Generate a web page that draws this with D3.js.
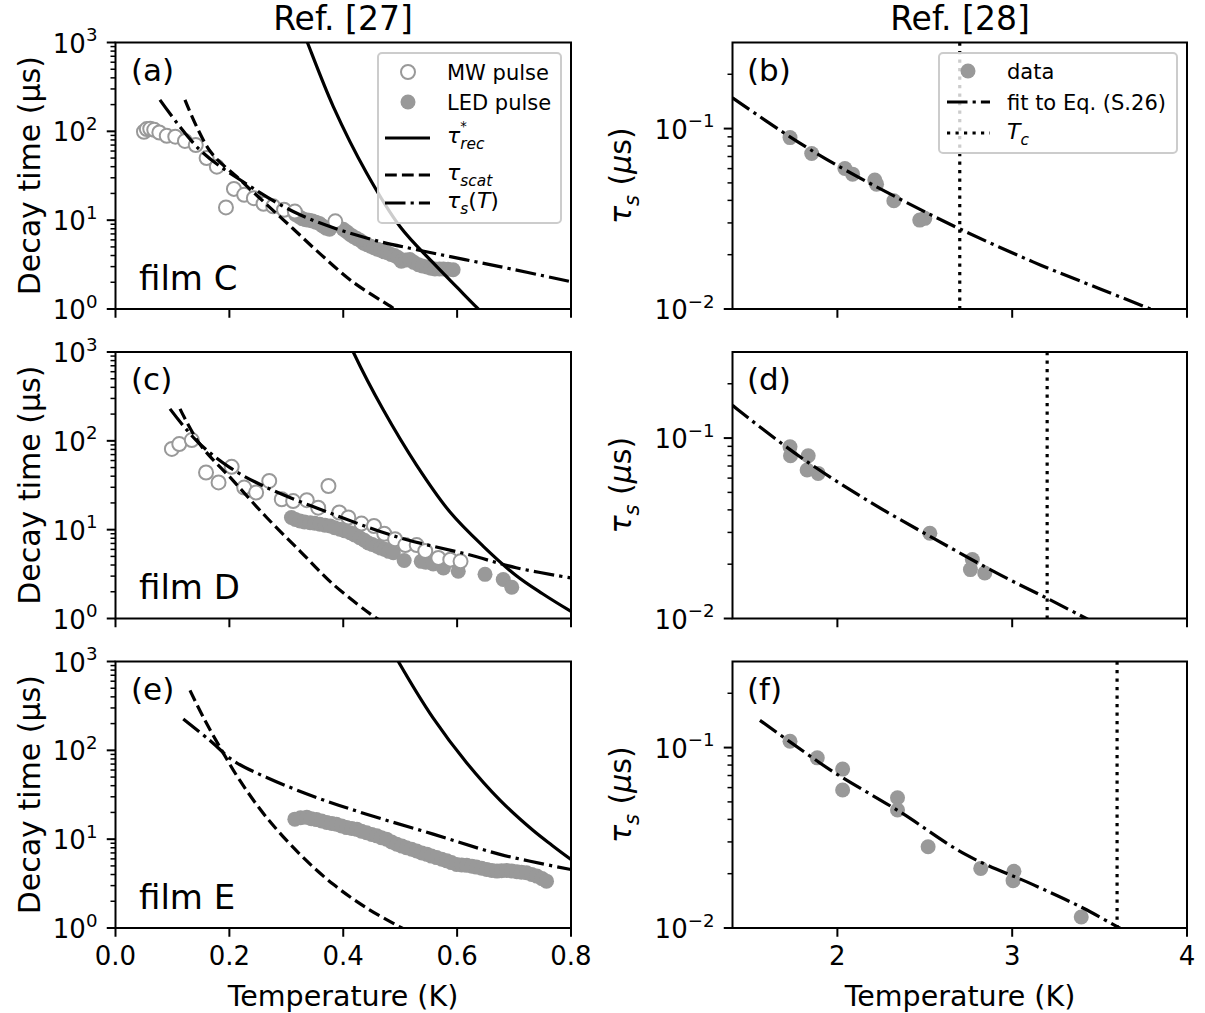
<!DOCTYPE html>
<html>
<head>
<meta charset="utf-8">
<script src="https://cdn.jsdelivr.net/npm/d3@7"></script>
<style>
  body { margin: 0; background: #fff; }
  svg { font-family: "DejaVu Sans", sans-serif; }
  text { white-space: pre; }
</style>
</head>
<body>
<svg id="chart" width="1205" height="1013"></svg>
<script>
// ---- data: [temperature (K), value] ----
// left column: decay time (us)
const mwC = [[0.050, 99], [0.055, 106], [0.061, 107], [0.068, 104], [0.077, 97], [0.090, 89], [0.105, 87],
  [0.122, 78], [0.141, 70], [0.160, 50], [0.178, 40], [0.194, 13.9], [0.208, 22.5], [0.226, 19.3],
  [0.243, 17.7], [0.260, 15.3], [0.277, 14.3], [0.296, 13.1], [0.315, 12.5], [0.386, 9.7]];
const ledC = [[0.316, 11.6], [0.322, 11.0], [0.328, 10.4], [0.334, 10.1], [0.340, 10.0], [0.346, 9.8],
  [0.352, 9.5], [0.358, 9.2], [0.364, 8.6], [0.370, 8.1], [0.376, 7.9], [0.400, 7.9], [0.406, 7.4],
  [0.412, 6.9], [0.418, 6.5], [0.424, 6.2], [0.430, 5.9], [0.436, 5.5], [0.442, 5.3], [0.448, 5.1],
  [0.454, 4.9], [0.460, 4.7], [0.466, 4.6], [0.472, 4.4], [0.478, 4.3], [0.484, 4.1], [0.490, 4.0],
  [0.496, 3.8], [0.502, 3.45], [0.510, 3.55], [0.517, 3.6], [0.524, 3.35], [0.532, 3.15], [0.539, 3.05],
  [0.547, 2.97], [0.554, 2.88], [0.561, 2.82], [0.569, 2.82], [0.576, 2.82], [0.584, 2.8], [0.593, 2.77]];
const recC = [[0.330, 1300], [0.337, 1000], [0.3825, 190], [0.441, 34], [0.4996, 8.5], [0.558, 3.3], [0.600, 1.75], [0.634, 1.05], [0.645, 0.9]];
const scatC = [[0.122, 226], [0.166, 60], [0.2187, 28.5], [0.2655, 15], [0.312, 8.0], [0.359, 4.2], [0.4176, 2.0], [0.485, 1.05], [0.495, 0.95]];
const fitC = [[0.078, 226], [0.148, 62], [0.2187, 28.5], [0.324, 11.5], [0.441, 6.3], [0.529, 4.65], [0.675, 3.0], [0.80, 2.03]];

const mwD = [[0.099, 81], [0.112, 92], [0.134, 102], [0.159, 44], [0.181, 34], [0.204, 51], [0.226, 29.8],
  [0.247, 26.2], [0.270, 35.4], [0.292, 22], [0.312, 21], [0.336, 21.5], [0.356, 17.7], [0.374, 31],
  [0.393, 15.6], [0.409, 13.7], [0.432, 11.7], [0.454, 11], [0.472, 9.0], [0.491, 7.8], [0.509, 6.7],
  [0.529, 6.7], [0.544, 5.75], [0.567, 4.8], [0.588, 4.6], [0.606, 4.4]];
const ledD = [[0.309, 13.7], [0.316, 13.0], [0.324, 12.5], [0.332, 12.2], [0.342, 12.0], [0.350, 11.8],
  [0.359, 11.5], [0.368, 11.2], [0.377, 11.0], [0.385, 10.5], [0.394, 10.1], [0.403, 9.7], [0.412, 9.25],
  [0.420, 8.7], [0.429, 8.1], [0.437, 7.6], [0.444, 7.1], [0.451, 6.8], [0.459, 6.5], [0.466, 6.2],
  [0.473, 6.0], [0.480, 5.7], [0.488, 5.5], [0.507, 4.5], [0.537, 4.4], [0.545, 4.3], [0.558, 4.1],
  [0.576, 3.7], [0.602, 4.07], [0.602, 3.4], [0.649, 3.14], [0.681, 2.75], [0.696, 2.25]];
const recD = [[0.410, 1300], [0.4176, 1000], [0.470, 225], [0.529, 53], [0.5875, 15.8], [0.646, 6.5], [0.7035, 3.05], [0.750, 1.9], [0.80, 1.2]];
const scatD = [[0.1133, 229], [0.148, 92], [0.207, 35.4], [0.2655, 13.7], [0.324, 5.75], [0.3825, 2.42], [0.456, 1.03], [0.465, 0.95]];
const fitD = [[0.0957, 229], [0.1426, 100], [0.201, 50], [0.2655, 29.8], [0.3825, 14.9], [0.4996, 8.1], [0.617, 5.3], [0.7035, 3.73], [0.80, 2.86]];

const ledE = [[0.315, 16.8], [0.325, 17.4], [0.336, 17.6], [0.344, 17.0], [0.353, 16.6], [0.362, 16.0],
  [0.371, 15.4], [0.380, 15.0], [0.388, 14.7], [0.397, 14.1], [0.406, 13.5], [0.415, 13.2], [0.424, 12.9],
  [0.432, 12.3], [0.441, 11.8], [0.450, 11.3], [0.459, 10.9], [0.467, 10.4], [0.476, 10.0], [0.485, 9.3],
  [0.494, 8.75], [0.503, 8.35], [0.511, 8.0], [0.520, 7.7], [0.529, 7.35], [0.538, 7.0], [0.547, 6.75],
  [0.555, 6.45], [0.564, 6.2], [0.573, 5.95], [0.582, 5.7], [0.590, 5.45], [0.599, 5.2], [0.608, 5.12],
  [0.617, 5.07], [0.626, 4.95], [0.634, 4.85], [0.643, 4.7], [0.652, 4.57], [0.661, 4.45], [0.670, 4.37],
  [0.678, 4.42], [0.687, 4.45], [0.696, 4.38], [0.705, 4.3], [0.713, 4.25], [0.722, 4.18], [0.731, 4.0],
  [0.740, 3.84], [0.749, 3.6], [0.757, 3.37]];
const recE = [[0.490, 1200], [0.4967, 1000], [0.558, 230], [0.617, 72], [0.6752, 27.5], [0.7337, 12.5], [0.767, 8.5], [0.80, 5.9]];
const scatE = [[0.1308, 473], [0.1542, 236], [0.1835, 108], [0.2187, 45.5], [0.2655, 17.5], [0.324, 6.75], [0.3825, 3.1], [0.441, 1.68], [0.5029, 1.0], [0.51, 0.95]];
const fitE = [[0.119, 226], [0.166, 129], [0.207, 76.5], [0.2655, 49.5], [0.3533, 29.4], [0.441, 19.1], [0.558, 11.4], [0.6752, 6.75], [0.80, 4.55]];

// right column: tau_s (us)
const dataB = [[1.729, 0.0891], [1.853, 0.0728], [2.043, 0.0601], [2.087, 0.0559], [2.214, 0.0518],
  [2.224, 0.0492], [2.323, 0.0398], [2.471, 0.0311], [2.500, 0.0318]];
const fitB = [[1.40, 0.148], [1.729, 0.090], [1.976, 0.0643], [2.357, 0.0407], [2.70, 0.0278], [3.119, 0.01825], [3.50, 0.01295], [3.786, 0.01004], [3.82, 0.0097]];
const dataD = [[1.729, 0.0896], [1.732, 0.0798], [1.833, 0.0798], [1.827, 0.0666], [1.890, 0.0637],
  [2.529, 0.0297], [2.772, 0.0212], [2.761, 0.01866], [2.843, 0.01786]];
const fitDd = [[1.40, 0.152], [1.433, 0.143], [1.786, 0.0788], [2.167, 0.0454], [2.548, 0.0279], [2.929, 0.0175], [3.214, 0.01273], [3.424, 0.0100], [3.46, 0.0096]];
const dataF = [[1.729, 0.1084], [1.885, 0.0877], [2.030, 0.076], [2.030, 0.0582], [2.344, 0.0527],
  [2.344, 0.0451], [2.519, 0.0282], [2.820, 0.0214], [3.010, 0.0206], [3.005, 0.0183], [3.395, 0.0115]];
const fitF = [[1.557, 0.1416], [1.729, 0.1076], [1.976, 0.0734], [2.357, 0.0441], [2.738, 0.0254], [3.119, 0.0174], [3.405, 0.0129], [3.614, 0.0100], [3.65, 0.0096]];
const tcValues = [2.7, 3.2, 3.6];

const leftTicksX = [0, 0.2, 0.4, 0.6, 0.8];
const rightTicksX = [2, 3, 4];
const leftMajorY = [1, 10, 100, 1000];
const rightMajorY = [0.01, 0.1];

const leftPanels = [
  { tag: '(a)', film: 'film C', mw: mwC, led: ledC, rec: recC, scat: scatC, fit: fitC },
  { tag: '(c)', film: 'film D', mw: mwD, led: ledD, rec: recD, scat: scatD, fit: fitD },
  { tag: '(e)', film: 'film E', mw: [], led: ledE, rec: recE, scat: scatE, fit: fitE },
];
const rightPanels = [
  { tag: '(b)', data: dataB, fit: fitB, tc: tcValues[0] },
  { tag: '(d)', data: dataD, fit: fitDd, tc: tcValues[1] },
  { tag: '(f)', data: dataF, fit: fitF, tc: tcValues[2] },
];

// ---- layout ----
const svg = d3.select('#chart');
const tops = [42.5, 352, 661.5];
const H = 266.5;
const LW = 3.2;
const GRAY = '#999999';
const TICK_FS = 26;
const dashes = { dashed: '11.8,5.1', dashdot: '20.5,5.1,3.2,5.1', dotted: '3.2,5.3' };

const xL = d3.scaleLinear().domain([0, 0.8]).range([115.5, 571]);
const xR = d3.scaleLinear().domain([1.4, 4]).range([732.5, 1187]);

// one text element built from pieces (italic / superscript / subscript)
function mathText(parent, pieces, size) {
  const t = parent.append('text').attr('font-size', size);
  let cur = 0, back = 0;
  pieces.forEach(p => {
    const fs = p.sup ? size * 0.6 : p.sub ? size * 0.7 : size;
    const shift = p.sup ? -size * 0.56 : p.sub ? size * 0.27 : 0;
    const ts = t.append('tspan')
      .attr('font-size', fs)
      .attr('font-style', p.it ? 'italic' : 'normal')
      .attr('dy', shift - cur)
      .text(p.t);
    if (back) ts.attr('dx', -back);
    back = 0;
    cur = shift;
    if (p.keep) back = ts.node().getComputedTextLength();
  });
  return t;
}

function supLabel(parent, x, y, exp, anchor) {
  const t = parent.append('text')
    .attr('x', x).attr('y', y)
    .attr('font-size', TICK_FS)
    .attr('text-anchor', anchor);
  t.append('tspan').text('10');
  t.append('tspan').attr('dy', -11.5).attr('font-size', TICK_FS * 0.7).text(exp);
}

function frameAndTicks(g, x, y, top, xTicks, majorY, minorY, showX, yExp) {
  const left = x.range()[0], bottom = top + H;
  g.selectAll(null).data(minorY).join('line')
    .attr('x1', left).attr('x2', left - 5)
    .attr('y1', d => y(d)).attr('y2', d => y(d))
    .attr('stroke', '#000').attr('stroke-width', 1.5);
  g.selectAll(null).data(majorY).join('line')
    .attr('x1', left).attr('x2', left - 8.75)
    .attr('y1', d => y(d)).attr('y2', d => y(d))
    .attr('stroke', '#000').attr('stroke-width', 2);
  majorY.forEach(d => supLabel(g, left - 18, y(d) + 10, yExp(d), 'end'));
  g.selectAll(null).data(xTicks).join('line')
    .attr('x1', d => x(d)).attr('x2', d => x(d))
    .attr('y1', bottom).attr('y2', bottom + 8.75)
    .attr('stroke', '#000').attr('stroke-width', 2);
  if (showX) {
    g.selectAll(null).data(xTicks).join('text')
      .attr('x', d => x(d)).attr('y', bottom + 37)
      .attr('text-anchor', 'middle')
      .attr('font-size', TICK_FS)
      .text(d => x === xL ? d3.format('.1f')(d) : d3.format('d')(d));
  }
}

function frame(g, x, top) {
  g.append('rect')
    .attr('x', x.range()[0]).attr('y', top)
    .attr('width', x.range()[1] - x.range()[0]).attr('height', H)
    .attr('fill', 'none').attr('stroke', '#000').attr('stroke-width', 2);
}

function clipFor(id, x, top) {
  svg.append('clipPath').attr('id', id).append('rect')
    .attr('x', x.range()[0]).attr('y', top)
    .attr('width', x.range()[1] - x.range()[0]).attr('height', H);
  return `url(#${id})`;
}

function drawLine(g, data, x, y, dash, clip) {
  const line = d3.line().x(d => x(d[0])).y(d => y(d[1])).curve(d3.curveCatmullRom.alpha(0.5));
  g.append('path')
    .datum(data)
    .attr('clip-path', clip)
    .attr('fill', 'none')
    .attr('stroke', '#000')
    .attr('stroke-width', LW)
    .attr('stroke-dasharray', dash || null)
    .attr('d', line);
}

const leftMinor = [];
[1, 10, 100].forEach(dec => { for (let k = 2; k <= 9; k++) leftMinor.push(dec * k); });
const rightMinor = [];
[0.01, 0.1].forEach(dec => { for (let k = 2; k <= 9; k++) if (dec * k <= 0.3) rightMinor.push(dec * k); });

// ---- left column ----
leftPanels.forEach((p, i) => {
  const top = tops[i];
  const y = d3.scaleLog().domain([1, 1000]).range([top + H, top]);
  const g = svg.append('g');
  const clip = clipFor('clipL' + i, xL, top);

  g.append('g').attr('clip-path', clip).selectAll('circle').data(p.led).join('circle')
    .attr('cx', d => xL(d[0])).attr('cy', d => y(d[1])).attr('r', 7.5)
    .attr('fill', GRAY);
  g.append('g').attr('clip-path', clip).selectAll('circle').data(p.mw).join('circle')
    .attr('cx', d => xL(d[0])).attr('cy', d => y(d[1])).attr('r', 7)
    .attr('fill', '#fff').attr('stroke', GRAY).attr('stroke-width', 2);

  drawLine(g, p.rec, xL, y, null, clip);
  drawLine(g, p.scat, xL, y, dashes.dashed, clip);
  drawLine(g, p.fit, xL, y, dashes.dashdot, clip);

  frameAndTicks(g, xL, y, top, leftTicksX, leftMajorY, leftMinor, i === 2, d => String(Math.round(Math.log10(d))));
  frame(g, xL, top);

  g.append('text').attr('x', 131).attr('y', top + 38).attr('font-size', 31).text(p.tag);
  g.append('text').attr('x', 139).attr('y', top + H - 19.5).attr('font-size', 34).text(p.film);

  g.append('text')
    .attr('transform', `translate(40,${top + H / 2}) rotate(-90)`)
    .attr('text-anchor', 'middle')
    .attr('font-size', 30)
    .text('Decay time (\u03bcs)');
});

// legend (a)
{
  const lg = svg.append('g');
  lg.append('rect').attr('x', 378).attr('y', 53).attr('width', 183).attr('height', 170)
    .attr('rx', 4).attr('fill', '#fff').attr('fill-opacity', 0.8)
    .attr('stroke', '#cccccc').attr('stroke-width', 2);
  const fs = 21;
  lg.append('circle').attr('cx', 408).attr('cy', 72).attr('r', 7)
    .attr('fill', '#fff').attr('stroke', GRAY).attr('stroke-width', 2);
  lg.append('text').attr('x', 447).attr('y', 72 + 7.5).attr('font-size', fs).text('MW pulse');
  lg.append('circle').attr('cx', 408).attr('cy', 102).attr('r', 7.5).attr('fill', GRAY);
  lg.append('text').attr('x', 447).attr('y', 102 + 7.5).attr('font-size', fs).text('LED pulse');
  const rows = [
    { y: 138, dash: null, pieces: [{ t: '\u03c4', it: true }, { t: '*', sup: true, keep: true }, { t: 'rec', sub: true, it: true }] },
    { y: 175, dash: dashes.dashed, pieces: [{ t: '\u03c4', it: true }, { t: 'scat', sub: true, it: true }] },
    { y: 203, dash: dashes.dashdot, pieces: [{ t: '\u03c4', it: true }, { t: 's', sub: true, it: true }, { t: '(' }, { t: 'T', it: true }, { t: ')' }] },
  ];
  rows.forEach(r => {
    lg.append('line').attr('x1', 385).attr('x2', 430).attr('y1', r.y).attr('y2', r.y)
      .attr('stroke', '#000').attr('stroke-width', LW).attr('stroke-dasharray', r.dash);
    mathText(lg, r.pieces, 22).attr('transform', `translate(447,${r.y + 5})`);
  });
}

// ---- right column ----
rightPanels.forEach((p, i) => {
  const top = tops[i];
  const y = d3.scaleLog().domain([0.01, 0.3]).range([top + H, top]);
  const g = svg.append('g');
  const clip = clipFor('clipR' + i, xR, top);

  g.append('g').attr('clip-path', clip).selectAll('circle').data(p.data).join('circle')
    .attr('cx', d => xR(d[0])).attr('cy', d => y(d[1])).attr('r', 7.5)
    .attr('fill', GRAY);
  drawLine(g, p.fit, xR, y, dashes.dashdot, clip);
  g.append('line')
    .attr('x1', xR(p.tc)).attr('x2', xR(p.tc))
    .attr('y1', top).attr('y2', top + H)
    .attr('stroke', '#000').attr('stroke-width', LW)
    .attr('stroke-dasharray', dashes.dotted);

  frameAndTicks(g, xR, y, top, rightTicksX, rightMajorY, rightMinor, i === 2, d => '\u2212' + String(Math.round(-Math.log10(d))));
  frame(g, xR, top);

  g.append('text').attr('x', 747).attr('y', top + 38).attr('font-size', 31).text(p.tag);

  mathText(g, [{ t: '\u03c4', it: true }, { t: 's', sub: true, it: true }, { t: ' (' }, { t: '\u03bc', it: true }, { t: 's)' }], 30)
    .attr('text-anchor', 'middle')
    .attr('transform', `translate(631,${top + H / 2}) rotate(-90)`);
});

// legend (b)
{
  const lg = svg.append('g');
  lg.append('rect').attr('x', 939).attr('y', 53).attr('width', 238).attr('height', 100)
    .attr('rx', 4).attr('fill', '#fff').attr('fill-opacity', 0.8)
    .attr('stroke', '#cccccc').attr('stroke-width', 2);
  const fs = 21;
  lg.append('circle').attr('cx', 968).attr('cy', 71).attr('r', 7.5).attr('fill', GRAY);
  lg.append('text').attr('x', 1007).attr('y', 71 + 7.5).attr('font-size', fs).text('data');
  lg.append('line').attr('x1', 947).attr('x2', 990).attr('y1', 102).attr('y2', 102)
    .attr('stroke', '#000').attr('stroke-width', LW).attr('stroke-dasharray', dashes.dashdot);
  lg.append('text').attr('x', 1007).attr('y', 102 + 7.5).attr('font-size', fs).text('fit to Eq. (S.26)');
  lg.append('line').attr('x1', 947).attr('x2', 990).attr('y1', 133).attr('y2', 133)
    .attr('stroke', '#000').attr('stroke-width', LW).attr('stroke-dasharray', dashes.dotted);
  mathText(lg, [{ t: 'T', it: true }, { t: 'c', sub: true, it: true }], 22)
    .attr('transform', `translate(1007,${133 + 6})`);
}

// ---- titles and x labels ----
svg.append('text').attr('x', 343).attr('y', 30).attr('text-anchor', 'middle').attr('font-size', 33).text('Ref. [27]');
svg.append('text').attr('x', 960).attr('y', 30).attr('text-anchor', 'middle').attr('font-size', 33).text('Ref. [28]');
svg.append('text').attr('x', 343).attr('y', 1006).attr('text-anchor', 'middle').attr('font-size', 28.5).text('Temperature (K)');
svg.append('text').attr('x', 960).attr('y', 1006).attr('text-anchor', 'middle').attr('font-size', 28.5).text('Temperature (K)');
</script>
</body>
</html>
